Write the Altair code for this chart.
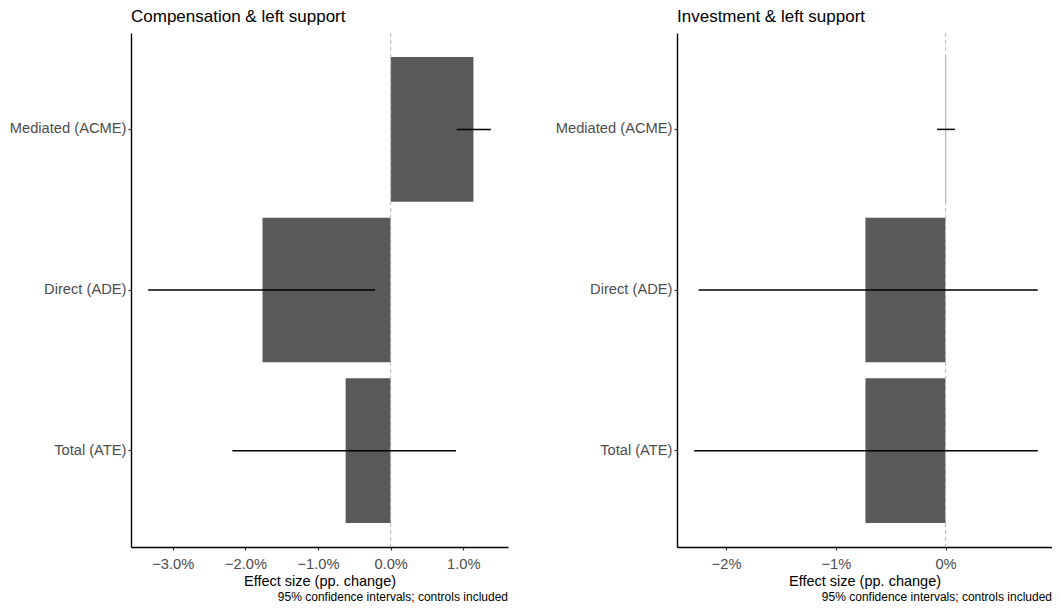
import altair as alt
import pandas as pd

cats = ["Mediated (ACME)", "Direct (ADE)", "Total (ATE)"]

comp_est = [1.14, -1.765, -0.62]
comp_lo = [0.91, -3.34, -2.18]
comp_hi = [1.38, -0.215, 0.90]

inv_est = [0.005, -0.73, -0.73]
inv_lo = [-0.077, -2.25, -2.29]
inv_hi = [0.085, 0.84, 0.84]

comp_ticks = [-3, -2, -1, 0, 1]
inv_ticks = [-2, -1, 0]

caption_text = "95% confidence intervals; controls included"
x_title = "Effect size (pp. change)"

FONT = "Liberation Sans"
H = 514


def panel(title, est, lo, hi, domain, ticks, fmt, W):
    df = pd.DataFrame({"cat": cats, "est": est, "lo": lo, "hi": hi, "zero": [0.0] * len(cats)})
    xscale = alt.Scale(domain=domain, nice=False, zero=False)
    yscale = alt.Scale(paddingInner=0.1, paddingOuter=0.15)
    yaxis = alt.Axis(title=None, labelPadding=2, minExtent=123, maxExtent=123)
    xaxis = alt.Axis(title=x_title, values=ticks,
                     labelExpr="format(datum.value, '" + fmt + "') + '%'",
                     labelPadding=6, titlePadding=4)
    base = alt.Chart(df)
    bars = base.mark_bar(color="#595959").encode(
        x=alt.X("est:Q", scale=xscale, axis=xaxis),
        x2="zero:Q",
        y=alt.Y("cat:N", sort=cats, scale=yscale, axis=yaxis),
    )
    vline = alt.Chart(pd.DataFrame({"v": [0.0]})).mark_rule(
        color="#BEBEBE", strokeDash=[4, 3], strokeWidth=1.1
    ).encode(x="v:Q")
    err = base.mark_rule(color="black", strokeWidth=1.5).encode(
        x="lo:Q", x2="hi:Q", y=alt.Y("cat:N", sort=cats)
    )
    cap = alt.Chart(pd.DataFrame({"t": [caption_text]})).mark_text(
        align="right", baseline="middle", fontSize=12, font=FONT, color="black"
    ).encode(text="t:N", x=alt.value(W), y=alt.value(H + 50))
    return alt.layer(bars, vline, err, cap).properties(
        width=W, height=H,
        title=alt.TitleParams(title, anchor="start", frame="group", fontSize=17,
                              font=FONT, fontWeight="normal", color="black", offset=6),
    )


left = panel("Compensation & left support", comp_est, comp_lo, comp_hi,
             [-3.576, 1.616], comp_ticks, ".1f", 377)
right = panel("Investment & left support", inv_est, inv_lo, inv_hi,
              [-2.447, 0.97], inv_ticks, ".0f", 375)

chart = alt.hconcat(left, right, spacing=46).properties(
    padding={"left": 0, "top": 0, "right": 0, "bottom": 0}
).configure_view(stroke=None).configure_axis(
    grid=False, domainColor="black", domainWidth=1.4, tickColor="#333333",
    tickSize=3, tickWidth=1.2, labelColor="#4D4D4D", labelFontSize=14.7,
    labelFont=FONT, titleFont=FONT, titleFontSize=14.5, titleFontWeight="normal",
    titleColor="black"
)

chart.save("out.html", embed_options={"renderer": "svg", "actions": False})
